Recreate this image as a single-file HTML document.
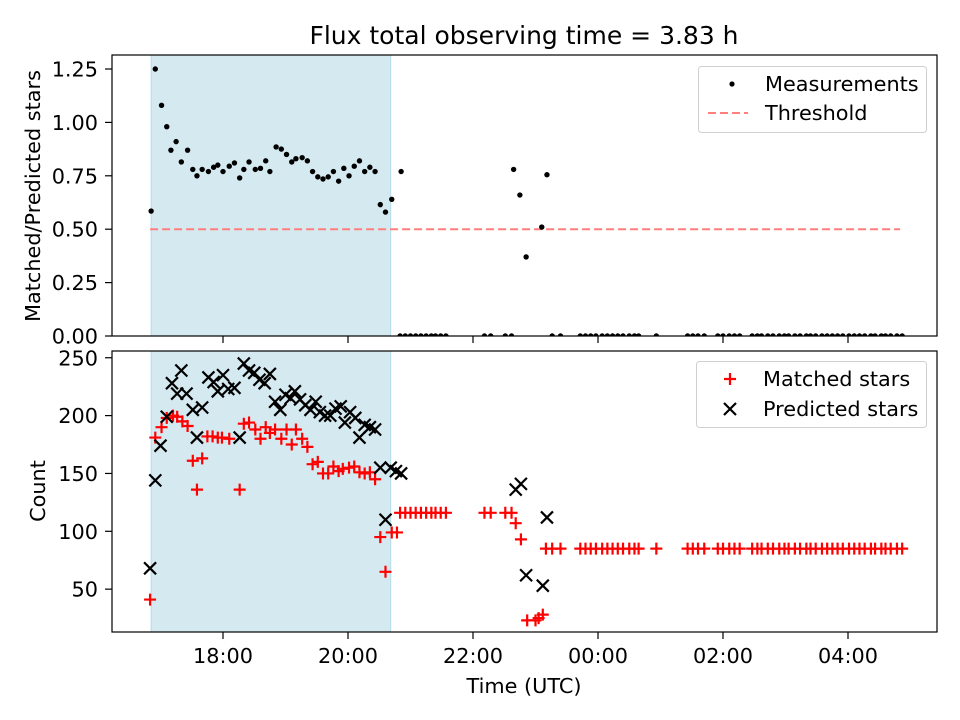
<!DOCTYPE html>
<html><head><meta charset="utf-8"><style>
html,body{margin:0;padding:0;background:#fff}
svg text{font-family:"DejaVu Sans","Liberation Sans",sans-serif;fill:#000}
</style></head><body>
<div style="position:relative;width:960px;height:720px">
<svg id="chart" width="960" height="720" viewBox="0 0 960 720" xmlns="http://www.w3.org/2000/svg" style="position:absolute;left:0;top:0">
<rect x="0" y="0" width="960" height="720" fill="#fff"/>
<text x="524" y="44" font-size="25" text-anchor="middle">Flux total observing time = 3.83 h</text>
<g id="topPanel"></g>
<g id="bottomPanel"></g>
<text x="40" y="196" font-size="20.8" text-anchor="middle" transform="rotate(-90 40 196)">Matched/Predicted stars</text>
<text x="45" y="491" font-size="20.8" text-anchor="middle" transform="rotate(-90 45 491)">Count</text>
<text x="524" y="693" font-size="20.8" text-anchor="middle">Time (UTC)</text>
<g>
<rect x="698.5" y="66.5" width="228" height="66" rx="3" fill="#fff" fill-opacity="0.8" stroke="#d0d0d0"/>
<circle cx="732" cy="84" r="2.6" fill="#000"/>
<text x="765" y="91" font-size="20.8">Measurements</text>
<line x1="708" x2="748" y1="113" y2="113" stroke="#ff7f7f" stroke-width="2" stroke-dasharray="8,4"/>
<text x="765" y="120" font-size="20.8">Threshold</text>
</g>
<g>
<rect x="696.5" y="361.5" width="230" height="66" rx="3" fill="#fff" fill-opacity="0.8" stroke="#d0d0d0"/>
<path d="M724,379H736M730,373V385" stroke="#f00" stroke-width="2.2"/>
<text x="763" y="386" font-size="20.8">Matched stars</text>
<path d="M724,403L736,415M724,415L736,403" stroke="#000" stroke-width="2.2"/>
<text x="763" y="416" font-size="20.8">Predicted stars</text>
</g>
</svg>
</div>
<script>
// times in minutes since 16:00 UTC
const ratioTimes = [51,55,61,66,70,75,80,86,91,95,100,106,111,115,120,126,131,136,140,145,151,156,161,165,171,176,181,186,190,196,201,206,211,216,221,226,231,236,241,246,251,256,261,266,271,276,282,291,
399,405,411,426,431,
290,295,300,305,310,315,320,324,329,334,371,377,391,397,436,444,463,468,473,478,484,489,494,499,504,510,515,519,536,566,571,576,582,595,600,606,611,616,628,633,637,643,648,654,659,663,669,674,680,684,689,695,700,705,710,715,721,726,731,736,742,746,752,756,761,767,772];
const ratioValues = [0.585,1.25,1.08,0.98,0.87,0.91,0.815,0.87,0.78,0.75,0.78,0.77,0.79,0.80,0.77,0.795,0.81,0.74,0.78,0.815,0.78,0.785,0.82,0.77,0.885,0.875,0.85,0.815,0.83,0.835,0.82,0.77,0.745,0.735,0.745,0.77,0.725,0.785,0.75,0.795,0.82,0.77,0.79,0.77,0.615,0.58,0.64,0.77,
0.78,0.66,0.37,0.51,0.755,
0,0,0,0,0,0,0,0,0,0,0,0,0,0,0,0,0,0,0,0,0,0,0,0,0,0,0,0,0,0,0,0,0,0,0,0,0,0,0,0,0,0,0,0,0,0,0,0,0,0,0,0,0,0,0,0,0,0,0,0,0,0,0,0,0,0,0];
const matchedTimes = [50,55,61,66,72,76,81,86,91,95,100,105,110,115,119,126,136,140,145,151,156,161,165,170,176,181,186,190,196,201,206,211,216,221,226,231,235,241,246,251,256,261,266,271,276,282,287,
290,295,300,305,310,315,320,324,329,334,371,377,391,397,401,406,412,420,423,427,
430,436,444,463,468,473,478,484,489,494,499,504,510,515,519,536,566,571,576,582,595,600,606,611,616,628,633,637,643,648,654,659,663,669,674,680,684,689,695,700,705,710,715,721,726,731,736,742,746,752,756,761,767,772];
const matchedValues = [41,181,190,198,200,199,195,191,161,136,163,182,182,181,181,180,136,193,194,188,180,190,185,188,180,188,175,188,180,173,158,160,150,150,156,152,154,155,156,151,150,151,145,95,65,99,99,
116,116,116,116,116,116,116,116,116,116,116,116,116,116,107,93,23,23,25,28,
85,85,85,85,85,85,85,85,85,85,85,85,85,85,85,85,85,85,85,85,85,85,85,85,85,85,85,85,85,85,85,85,85,85,85,85,85,85,85,85,85,85,85,85,85,85,85,85,85,85,85,85,85,85];
const predictedTimes = [50,55,60,66,71,76,80,85,91,95,100,106,111,115,120,125,131,136,140,145,150,155,160,165,170,175,180,185,189,194,199,204,209,213,218,223,228,233,237,242,247,251,256,261,266,271,276,281,286,291,401,406,411,427,431];
const predictedValues = [68,144,174,199,228,219,239,219,205,181,207,233,229,221,235,223,224,181,245,239,237,231,228,236,212,205,218,215,221,214,209,205,212,203,200,200,206,208,194,203,198,181,192,190,188,155,110,155,152,150,136,141,62,53,112];
const threshold = 0.5;
const thresholdStart = 50, thresholdEnd = 770;
const shadeStart = 51, shadeEnd = 281;
const xTickValues = [120,240,360,480,600,720];
const xTickLabels = ["18:00","20:00","22:00","00:00","02:00","04:00"];
const topTicks = [0,0.25,0.5,0.75,1.0,1.25];
const topTickLabels = ["0.00","0.25","0.50","0.75","1.00","1.25"];
const botTicks = [50,100,150,200,250];

const NS="http://www.w3.org/2000/svg";
const L=112,R=937, T1=55,B1=336, T2=351,B2=632;
const FS=20.8;
function xs(m){return 223+(m-120)*62.5/60;}
function yTop(v){return 336-v*213.6;}
function yBot(v){return 647-v*1.157;}
function el(tag,attrs,parent){const e=document.createElementNS(NS,tag);for(const k in attrs)e.setAttribute(k,attrs[k]);parent.appendChild(e);return e;}
const topG=document.getElementById('topPanel'), botG=document.getElementById('bottomPanel');

function panel(g,T,B,name){
  const cp=el('clipPath',{id:'clip-'+name},g);
  el('rect',{x:L,y:T,width:R-L,height:B-T},cp);
  const sh=el('rect',{x:xs(shadeStart),y:T,width:xs(shadeEnd)-xs(shadeStart),height:B-T,fill:'#d4e9f0',stroke:'#b3dbe8','stroke-width':1},g);
  
  
}
panel(topG,T1,B1,'top');
panel(botG,T2,B2,'bottom');

const th=el('line',{x1:xs(thresholdStart),x2:xs(thresholdEnd),y1:yTop(threshold),y2:yTop(threshold),stroke:'#ff7f7f','stroke-width':2,'stroke-dasharray':'8,4'},topG);



const rg=el('g',{'clip-path':'url(#clip-top)'},topG);
for(let i=0;i<ratioTimes.length;i++){
  const c=el('circle',{cx:xs(ratioTimes[i]),cy:yTop(ratioValues[i]),r:2.7,fill:'#000'},rg);
  
  
}
const bg=el('g',{'clip-path':'url(#clip-bottom)'},botG);
function plus(x,y,g){return el('path',{d:`M${x-6},${y}H${x+6}M${x},${y-6}V${y+6}`,stroke:'#ff0000','stroke-width':2.2,fill:'none'},g);}
function cross(x,y,g){return el('path',{d:`M${x-6},${y-6}L${x+6},${y+6}M${x-6},${y+6}L${x+6},${y-6}`,stroke:'#000','stroke-width':2.2,fill:'none'},g);}
for(let i=0;i<matchedTimes.length;i++){
  const p=plus(xs(matchedTimes[i]),yBot(matchedValues[i]),bg);
  
  
}
for(let i=0;i<predictedTimes.length;i++){
  const p=cross(xs(predictedTimes[i]),yBot(predictedValues[i]),bg);
  
  
}

const panels=[[topG,T1,B1,'top'],[botG,T2,B2,'bottom']];
for(const [g,T,B,n] of panels){
  const f=el('rect',{x:L,y:T,width:R-L,height:B-T,fill:'none',stroke:'#000','stroke-width':1.2},g);
  
  
  for(let i=0;i<xTickValues.length;i++){
    const x=xs(xTickValues[i]);
    el('line',{x1:x,x2:x,y1:B,y2:B+7,stroke:'#000','stroke-width':1.2},g);
    if(n==='bottom'){
      const t=el('text',{x:x,y:B+31,'font-size':FS,'text-anchor':'middle'},g);
      t.textContent=xTickLabels[i];
      
      
    }
  }
}
for(let i=0;i<topTicks.length;i++){
  const y=yTop(topTicks[i]);
  el('line',{x1:L-7,x2:L,y1:y,y2:y,stroke:'#000','stroke-width':1.2},topG);
  const t=el('text',{x:L-14,y:y+7.5,'font-size':FS,'text-anchor':'end'},topG);
  t.textContent=topTickLabels[i];
  
  
}
for(let i=0;i<botTicks.length;i++){
  const y=yBot(botTicks[i]);
  el('line',{x1:L-7,x2:L,y1:y,y2:y,stroke:'#000','stroke-width':1.2},botG);
  const t=el('text',{x:L-14,y:y+7.5,'font-size':FS,'text-anchor':'end'},botG);
  t.textContent=String(botTicks[i]);
  
  
}
</script>
</body></html>
